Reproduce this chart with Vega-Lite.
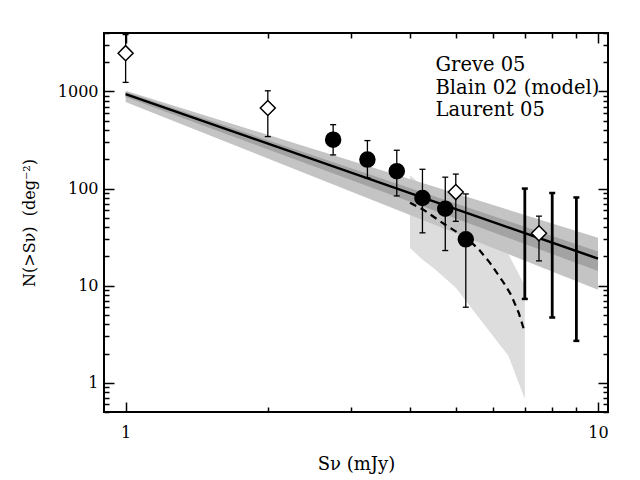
{
  "$schema": "https://vega.github.io/schema/vega-lite/v6.json",
  "width": 504,
  "height": 379,
  "autosize": "none",
  "padding": {"left": 104, "top": 33, "right": 32, "bottom": 68},
  "background": "white",
  "config": {
    "view": {"stroke": "black", "strokeWidth": 2},
    "font": "DejaVu Serif",
    "axis": {
      "labelFont": "DejaVu Serif", "labelFontSize": 16, "labelColor": "black",
      "titleFont": "DejaVu Serif", "titleFontSize": 16, "titleFontWeight": "normal", "titleColor": "black",
      "tickColor": "black", "tickWidth": 1.5, "domain": false, "grid": false,
      "labelFlush": false, "labelOverlap": false
    }
  },
  "datasets": {
    "fit": [
      {"S": 1, "N": 940, "olo": 780, "ohi": 1020, "ilo": 875, "ihi": 985},
      {"S": 10, "N": 19, "olo": 9.06, "ohi": 31.2, "ilo": 14.2, "ihi": 22.5}
    ],
    "lband": [
      {"S": 4.0, "lo": 24.5, "hi": 137},
      {"S": 4.24, "lo": 18.7, "hi": 107},
      {"S": 4.5, "lo": 15, "hi": 87},
      {"S": 5.0, "lo": 9.5, "hi": 57},
      {"S": 5.86, "lo": 3.5, "hi": 31},
      {"S": 6.46, "lo": 1.9, "hi": 21.2},
      {"S": 7.0, "lo": 0.68, "hi": 10}
    ],
    "laurent": [
      {"S": 4.0, "N": 71.5},
      {"S": 4.26, "N": 61},
      {"S": 4.78, "N": 41.5},
      {"S": 5.26, "N": 31},
      {"S": 5.58, "N": 24},
      {"S": 5.9, "N": 17.3},
      {"S": 6.35, "N": 10.3},
      {"S": 6.55, "N": 8.0},
      {"S": 6.8, "N": 5.2},
      {"S": 7.0, "N": 3.3}
    ],
    "points": [
      {"series": "Greve 05", "S": 2.75, "N": 319, "lo": 222, "hi": 455},
      {"series": "Greve 05", "S": 3.25, "N": 199, "lo": 129, "hi": 312},
      {"series": "Greve 05", "S": 3.75, "N": 151, "lo": 84, "hi": 248},
      {"series": "Greve 05", "S": 4.25, "N": 80, "lo": 35, "hi": 158},
      {"series": "Greve 05", "S": 4.75, "N": 62, "lo": 23, "hi": 131},
      {"series": "Greve 05", "S": 5.25, "N": 30, "lo": 6, "hi": 88},
      {"series": "Blain 02 (model)", "S": 1, "N": 2480, "lo": 1240, "hi": 3850},
      {"series": "Blain 02 (model)", "S": 2, "N": 675, "lo": 343, "hi": 1016},
      {"series": "Blain 02 (model)", "S": 5, "N": 92, "lo": 46, "hi": 141},
      {"series": "Blain 02 (model)", "S": 7.5, "N": 34.6, "lo": 18, "hi": 52}
    ],
    "limits": [
      {"S": 7, "lo": 7.3, "hi": 100},
      {"S": 8, "lo": 4.7, "hi": 90},
      {"S": 9, "lo": 2.7, "hi": 81}
    ]
  },
  "layer": [
    {
      "data": {"name": "lband"},
      "mark": {"type": "area", "color": "#dddddd", "opacity": 1},
      "encoding": {
        "x": {"field": "S", "type": "quantitative", "scale": {"type": "log", "domain": [0.9, 10.5], "nice": false},
          "axis": {"orient": "bottom", "values": [1, 2, 3, 4, 5, 6, 7, 8, 9, 10], "format": "d",
            "labelExpr": "datum.value == 1 || datum.value == 10 ? datum.label : ''",
            "tickSize": {"condition": {"test": "datum.value == 1 || datum.value == 10", "value": -10}, "value": -5},
            "labelPadding": 22, "title": "Sν (mJy)", "titleFontSize": 18, "titlePadding": 10}},
        "y": {"field": "lo", "type": "quantitative", "scale": {"type": "log", "domain": [0.5, 4000], "nice": false},
          "axis": {"orient": "left", "values": [0.5, 0.6, 0.7, 0.8, 0.9, 1, 2, 3, 4, 5, 6, 7, 8, 9, 10, 20, 30, 40, 50, 60, 70, 80, 90, 100, 200, 300, 400, 500, 600, 700, 800, 900, 1000, 2000, 3000, 4000], "format": "d",
            "labelExpr": "datum.value == 1 || datum.value == 10 || datum.value == 100 || datum.value == 1000 ? datum.label : ''",
            "tickSize": {"condition": {"test": "datum.value == 1 || datum.value == 10 || datum.value == 100 || datum.value == 1000", "value": -10}, "value": -5},
            "labelPadding": 16, "title": "N(>Sν)\u00a0 (deg⁻²)", "titlePadding": 20}},
        "y2": {"field": "hi"}
      }
    },
    {
      "data": {"name": "fit"},
      "mark": {"type": "area", "color": "#c4c4c4", "opacity": 1},
      "encoding": {
        "x": {"field": "S", "type": "quantitative", "scale": {"type": "log", "domain": [0.9, 10.5], "nice": false},
          "axis": {"orient": "top", "values": [1, 2, 3, 4, 5, 6, 7, 8, 9, 10], "labels": false, "title": null,
            "tickSize": {"condition": {"test": "datum.value == 1 || datum.value == 10", "value": -10}, "value": -5}}},
        "y": {"field": "olo", "type": "quantitative", "scale": {"type": "log", "domain": [0.5, 4000], "nice": false},
          "axis": {"orient": "right", "values": [0.5, 0.6, 0.7, 0.8, 0.9, 1, 2, 3, 4, 5, 6, 7, 8, 9, 10, 20, 30, 40, 50, 60, 70, 80, 90, 100, 200, 300, 400, 500, 600, 700, 800, 900, 1000, 2000, 3000, 4000], "labels": false, "title": null,
            "tickSize": {"condition": {"test": "datum.value == 1 || datum.value == 10 || datum.value == 100 || datum.value == 1000", "value": -10}, "value": -5}}},
        "y2": {"field": "ohi"}
      }
    },
    {
      "data": {"name": "fit"},
      "mark": {"type": "area", "color": "#a3a3a3", "opacity": 1},
      "encoding": {
        "x": {"field": "S", "type": "quantitative", "scale": {"type": "log", "domain": [0.9, 10.5], "nice": false}, "axis": null},
        "y": {"field": "ilo", "type": "quantitative", "scale": {"type": "log", "domain": [0.5, 4000], "nice": false}, "axis": null},
        "y2": {"field": "ihi"}
      }
    },
    {
      "data": {"name": "fit"},
      "mark": {"type": "line", "color": "black", "strokeWidth": 2.5},
      "encoding": {
        "x": {"field": "S", "type": "quantitative", "scale": {"type": "log", "domain": [0.9, 10.5], "nice": false}, "axis": null},
        "y": {"field": "N", "type": "quantitative", "scale": {"type": "log", "domain": [0.5, 4000], "nice": false}, "axis": null}
      }
    },
    {
      "data": {"name": "laurent"},
      "mark": {"type": "line", "color": "black", "strokeWidth": 2.2, "strokeDash": [7, 5]},
      "encoding": {
        "x": {"field": "S", "type": "quantitative", "scale": {"type": "log", "domain": [0.9, 10.5], "nice": false}, "axis": null},
        "y": {"field": "N", "type": "quantitative", "scale": {"type": "log", "domain": [0.5, 4000], "nice": false}, "axis": null}
      }
    },
    {
      "data": {"name": "points"},
      "mark": {"type": "rule", "color": "black", "strokeWidth": 1.3},
      "encoding": {
        "x": {"field": "S", "type": "quantitative", "scale": {"type": "log", "domain": [0.9, 10.5], "nice": false}, "axis": null},
        "y": {"field": "lo", "type": "quantitative", "scale": {"type": "log", "domain": [0.5, 4000], "nice": false}, "axis": null},
        "y2": {"field": "hi"}
      }
    },
    {
      "data": {"name": "points"},
      "mark": {"type": "tick", "orient": "horizontal", "color": "black", "size": 6, "thickness": 1.3, "opacity": 1},
      "encoding": {
        "x": {"field": "S", "type": "quantitative", "scale": {"type": "log", "domain": [0.9, 10.5], "nice": false}, "axis": null},
        "y": {"field": "lo", "type": "quantitative", "scale": {"type": "log", "domain": [0.5, 4000], "nice": false}, "axis": null}
      }
    },
    {
      "data": {"name": "points"},
      "mark": {"type": "tick", "orient": "horizontal", "color": "black", "size": 6, "thickness": 1.3, "opacity": 1},
      "encoding": {
        "x": {"field": "S", "type": "quantitative", "scale": {"type": "log", "domain": [0.9, 10.5], "nice": false}, "axis": null},
        "y": {"field": "hi", "type": "quantitative", "scale": {"type": "log", "domain": [0.5, 4000], "nice": false}, "axis": null}
      }
    },
    {
      "data": {"name": "limits"},
      "mark": {"type": "rule", "color": "black", "strokeWidth": 2.8},
      "encoding": {
        "x": {"field": "S", "type": "quantitative", "scale": {"type": "log", "domain": [0.9, 10.5], "nice": false}, "axis": null},
        "y": {"field": "lo", "type": "quantitative", "scale": {"type": "log", "domain": [0.5, 4000], "nice": false}, "axis": null},
        "y2": {"field": "hi"}
      }
    },
    {
      "data": {"name": "limits"},
      "mark": {"type": "tick", "orient": "horizontal", "color": "black", "size": 6, "thickness": 2.5, "opacity": 1},
      "encoding": {
        "x": {"field": "S", "type": "quantitative", "scale": {"type": "log", "domain": [0.9, 10.5], "nice": false}, "axis": null},
        "y": {"field": "lo", "type": "quantitative", "scale": {"type": "log", "domain": [0.5, 4000], "nice": false}, "axis": null}
      }
    },
    {
      "data": {"name": "limits"},
      "mark": {"type": "tick", "orient": "horizontal", "color": "black", "size": 6, "thickness": 2.5, "opacity": 1},
      "encoding": {
        "x": {"field": "S", "type": "quantitative", "scale": {"type": "log", "domain": [0.9, 10.5], "nice": false}, "axis": null},
        "y": {"field": "hi", "type": "quantitative", "scale": {"type": "log", "domain": [0.5, 4000], "nice": false}, "axis": null}
      }
    },
    {
      "data": {"name": "points"},
      "mark": {"type": "point", "filled": true, "fill": "white", "stroke": "black", "strokeWidth": 1.5, "opacity": 1, "fillOpacity": 1, "size": 225},
      "encoding": {
        "x": {"field": "S", "type": "quantitative", "scale": {"type": "log", "domain": [0.9, 10.5], "nice": false}, "axis": null},
        "y": {"field": "N", "type": "quantitative", "scale": {"type": "log", "domain": [0.5, 4000], "nice": false}, "axis": null},
        "shape": {"field": "series", "type": "nominal",
          "scale": {"domain": ["Greve 05", "Blain 02 (model)", "Laurent 05"],
            "range": [
              "M-1,0A1,1 0 1,0 1,0A1,1 0 1,0 -1,0M-0.85,0A0.85,0.85 0 1,0 0.85,0A0.85,0.85 0 1,0 -0.85,0M-0.7,0A0.7,0.7 0 1,0 0.7,0A0.7,0.7 0 1,0 -0.7,0M-0.55,0A0.55,0.55 0 1,0 0.55,0A0.55,0.55 0 1,0 -0.55,0M-0.4,0A0.4,0.4 0 1,0 0.4,0A0.4,0.4 0 1,0 -0.4,0M-0.25,0A0.25,0.25 0 1,0 0.25,0A0.25,0.25 0 1,0 -0.25,0M-0.1,0A0.1,0.1 0 1,0 0.1,0A0.1,0.1 0 1,0 -0.1,0",
              "diamond",
              "M-3.4,0L-2.54,0M-1.915,0L-1.055,0M-0.43,0L0.43,0M1.055,0L1.915,0M2.54,0L3.4,0"
            ]},
          "legend": {
            "orient": "none", "legendX": 285, "legendY": 22, "title": null,
            "labelFont": "DejaVu Serif", "labelFontSize": 19.5, "labelColor": "black", "labelOffset": 27, "labelLimit": 400,
            "symbolSize": 225, "symbolStrokeColor": "black", "symbolFillColor": "white", "symbolStrokeWidth": 1.8, "symbolOpacity": 1,
            "rowPadding": 0, "padding": 0
          }}
      }
    }
  ],
  "resolve": {"axis": {"x": "independent", "y": "independent"}}
}
